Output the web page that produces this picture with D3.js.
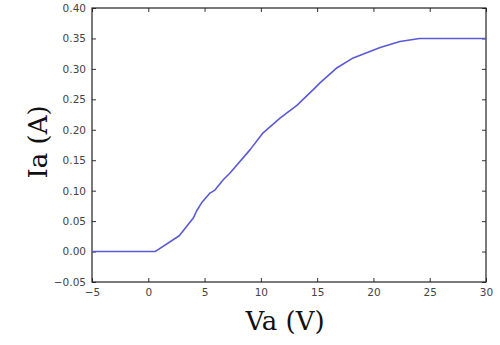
<!DOCTYPE html>
<html><head><meta charset="utf-8">
<script src="https://cdn.jsdelivr.net/npm/d3@7/dist/d3.min.js"></script>
<style>body{margin:0;background:#fff}svg{display:block}</style>
</head><body>
<svg id="c" width="500" height="345"></svg>
<script>
const vaValues = [-5, 0.6, 2.75, 4.0, 4.3, 4.74, 5.48, 5.92, 6.66, 7.26, 9.03, 10.2, 11.7, 13.2, 14.65, 15.25, 16.7, 18.2, 20.6, 22.35, 24.1, 30];
const iaValues = [0.0, 0.0, 0.026, 0.055, 0.067, 0.080, 0.096, 0.101, 0.118, 0.129, 0.167, 0.195, 0.219, 0.240, 0.266, 0.277, 0.301, 0.318, 0.335, 0.345, 0.350, 0.350];
const xTicks = [-5, 0, 5, 10, 15, 20, 25, 30];
const yTicks = [-0.05, 0.00, 0.05, 0.10, 0.15, 0.20, 0.25, 0.30, 0.35, 0.40];

const svg = d3.select("#c");
const L = 92, R = 486, T = 8, B = 282;
const x = d3.scaleLinear().domain([-5, 30]).range([L, R]);
const y = d3.scaleLinear().domain([-0.05, 0.40]).range([B, T]);
const fmtY = d => d3.format(".2f")(d).replace("-", "\u2212");
const fmtX = d => String(d).replace("-", "\u2212");

const tickStyle = g => {
  g.select(".domain").remove();
  g.selectAll(".tick line").attr("stroke", "#333");
  g.selectAll(".tick text").attr("fill", "#444").style("font-family", "DejaVu Sans").style("font-size", "10.5px");
};
svg.append("g").attr("transform", `translate(0,${B})`)
  .call(d3.axisBottom(x).tickValues(xTicks).tickFormat(fmtX).tickSizeInner(-4).tickPadding(7)).call(tickStyle);
svg.append("g").attr("transform", `translate(0,${T})`)
  .call(d3.axisTop(x).tickValues(xTicks).tickFormat("").tickSizeInner(-4)).call(tickStyle);
svg.append("g").attr("transform", `translate(${L},0)`)
  .call(d3.axisLeft(y).tickValues(yTicks).tickFormat(fmtY).tickSizeInner(-4).tickPadding(6)).call(tickStyle);
svg.append("g").attr("transform", `translate(${R},0)`)
  .call(d3.axisRight(y).tickValues(yTicks).tickFormat("").tickSizeInner(-4)).call(tickStyle);

svg.append("rect").attr("x", L).attr("y", T).attr("width", R - L).attr("height", B - T)
  .attr("fill", "none").attr("stroke", "#222").attr("stroke-width", 1.2);

const line = d3.line().x((d, i) => x(vaValues[i])).y((d, i) => y(iaValues[i]));
svg.append("path").datum(iaValues).attr("d", line)
  .attr("fill", "none").attr("stroke", "#5a5ad6").attr("stroke-width", 1.6).attr("stroke-linejoin", "round");

svg.append("text").attr("x", 285).attr("y", 330).attr("text-anchor", "middle")
  .style("font-family", "DejaVu Serif").style("font-size", "26px").attr("fill", "#111").text("Va (V)");
svg.append("text").attr("transform", "translate(47,142) rotate(-90)").attr("text-anchor", "middle")
  .style("font-family", "DejaVu Serif").style("font-size", "26px").attr("fill", "#111").text("Ia (A)");
</script>
</body></html>
